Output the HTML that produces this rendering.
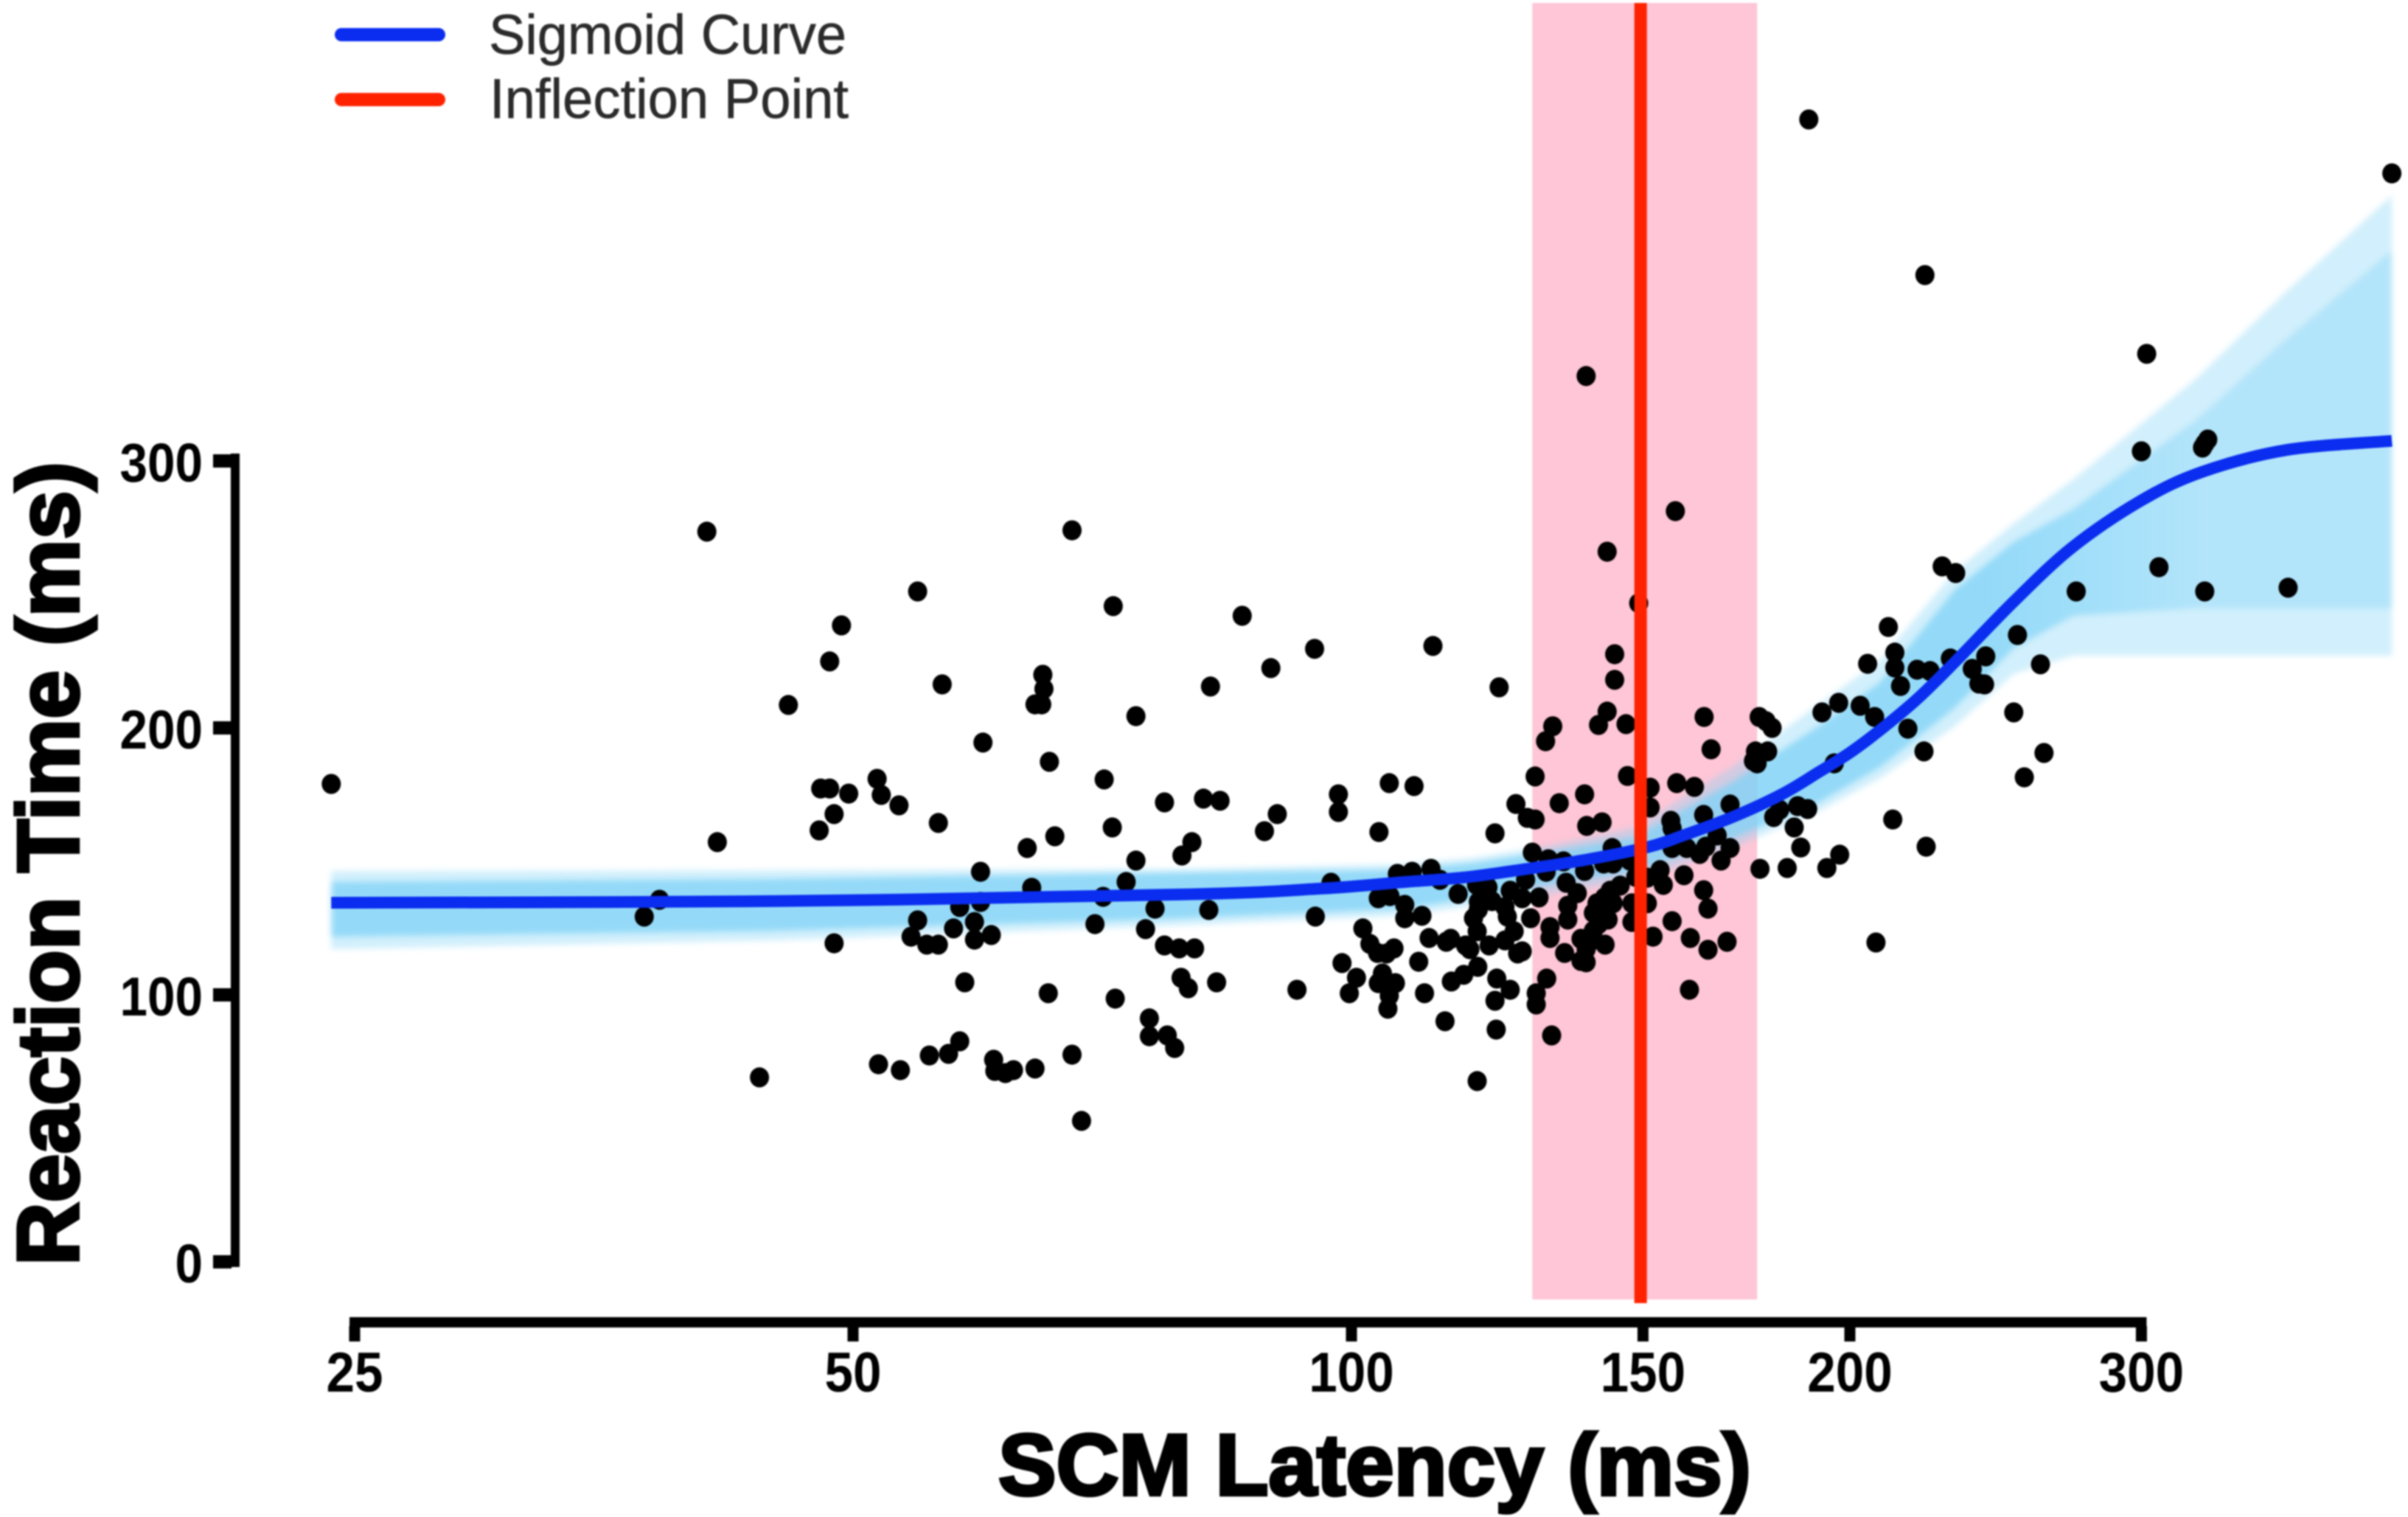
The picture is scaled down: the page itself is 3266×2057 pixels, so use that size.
<!DOCTYPE html>
<html lang="en">
<head>
<meta charset="utf-8">
<title>SCM Latency vs Reaction Time</title>
<style>
html,body{margin:0;padding:0;background:#fff;width:3266px;height:2057px;overflow:hidden}
svg{display:block;filter:blur(1.1px)}
text{font-family:"Liberation Sans",Arial,sans-serif}
</style>
</head>
<body>
<svg id="chart" xmlns="http://www.w3.org/2000/svg" width="3266" height="2057" viewBox="0 0 3266 2057">
  <defs>
    <filter id="soft" x="-5%" y="-5%" width="110%" height="110%"><feGaussianBlur stdDeviation="4"/></filter>
    <linearGradient id="inner-fade" gradientUnits="userSpaceOnUse" x1="2700" y1="0" x2="3000" y2="0">
      <stop offset="0" stop-color="#7fd3f7" stop-opacity="0.74"/>
      <stop offset="1" stop-color="#7fd3f7" stop-opacity="0.36"/>
    </linearGradient>
  </defs>
  <rect width="3266" height="2057" fill="#ffffff"/>
  <g id="ci-layer"></g>
  <g id="band-layer" filter="url(#soft)"></g>
  <g id="point-layer"></g>
  <g id="curve-layer"></g>
  <g id="axis-layer"></g>

  <text x="1354" y="2027" font-size="118" font-weight="700" fill="#000" stroke="#000" stroke-width="4.5" textLength="1021" lengthAdjust="spacingAndGlyphs">SCM Latency (ms)</text>
  <text transform="translate(106,1716) rotate(-90)" font-size="118" font-weight="700" fill="#000" stroke="#000" stroke-width="4.5" textLength="1090" lengthAdjust="spacingAndGlyphs">Reaction Time (ms)</text>

  <g>
    <g>
      <line x1="463" y1="47" x2="595" y2="47" stroke="#0a2df0" stroke-width="18" stroke-linecap="round"/>
      <text x="663" y="73" font-size="76" fill="#2b2b2b" stroke="#2b2b2b" stroke-width="0.6" textLength="485" lengthAdjust="spacingAndGlyphs">Sigmoid Curve</text>
    </g>
    <g>
      <line x1="463" y1="135" x2="595" y2="135" stroke="#ff2200" stroke-width="18" stroke-linecap="round"/>
      <text x="664" y="160" font-size="76" fill="#2b2b2b" stroke="#2b2b2b" stroke-width="0.6" textLength="487" lengthAdjust="spacingAndGlyphs">Inflection Point</text>
    </g>
  </g>
</svg>
<script>
// ---- Data (latency in ms, reaction time in ms) ----
const xTickValues = [25, 50, 100, 150, 200, 300];
const yTickValues = [0, 100, 200, 300];

const inflectionLatency = 149.5;
const inflectionCILow = 128.6;
const inflectionCIHigh = 175.8;

const curveLatency = [24.2,44.8,78.8,95.8,107.8,116.6,126.1,139.1,151.3,158.6,169.9,181.9,191.5,200.2,208.6,219.6,231.4,251.1,272.6,299.8,326.5,367,425];
const curveReaction = [134.5,135.1,137.6,139.8,142.3,143.9,146.7,150.8,155.5,159.7,166.6,175.1,183.4,190.9,199.2,210.8,224.6,247.2,267.7,285.1,295.9,304.1,307.5];

const bandLatency = [24.2,44.8,78.8,107.1,118.7,131.5,148.2,169.9,191.5,208.6,231.4,251.1,272.9,323.5,367,425];
const bandOuterUpper = [146.4,146.7,147.2,148.9,151.4,155.8,162.7,185.4,208.8,225.4,258.6,276.5,293.1,330.7,363.5,399.4];
const bandInnerUpper = [142.3,143.4,145.6,146.7,149.4,153.6,159.1,179.8,200.6,217.1,251.7,269.6,282.0,315.2,345.6,378.7];
const bandInnerLower = [121.8,124.0,128.7,132.3,136.2,141.2,146.1,158.6,172.1,185.4,207.5,229.8,242.0,244.8,244.8,244.8];
const bandOuterLower = [117.1,120.4,126.0,129.6,133.4,137.8,142.5,155.0,168.8,181.2,200.6,220.2,227.1,227.1,227.1,227.1];

const scatterLatency = [
24.2,37.4,38.2,40.8,41.4,43.9,45.7,
47.7,47.8,48.4,48.4,48.7,48.7,49.2,49.7,51.7,51.8,52.0,
53.3,53.4,54.2,54.7,54.7,55.4,55.6,56.3,56.3,56.6,57.1,57.5,
58.0,58.0,58.4,59.2,59.2,59.7,59.7,59.9,60.6,60.8,60.9,61.8,62.5,63.7,64.1,
64.4,64.4,65.0,65.1,65.2,65.6,65.7,66.2,67.8,67.8,68.7,70.0,70.8,70.9,
71.7,71.8,72.0,73.1,74.1,74.1,75.1,75.5,75.5,76.1,77.1,77.1,77.4,78.2,78.7,
78.9,79.0,79.7,80.1,80.4,81.4,82.0,82.2,82.9,83.3,85.9,
88.6,89.4,90.2,92.7,95.0,95.1,
97.2,98.2,98.2,98.7,99.7,100.7,101.6,102.6,103.8,103.7,103.9,104.4,103.8,105.0,105.2,105.3,105.4,105.4,105.5,106.1,106.3,106.6,
107.7,107.7,108.8,109.1,109.8,110.3,110.7,111.4,111.7,112.0,113.1,113.9,114.1,114.8,114.9,116.0,116.9,117.2,117.9,118.5,
119.0,119.1,119.1,119.2,119.3,119.3,120.9,121.1,121.6,122.1,122.3,122.4,122.8,122.1,123.8,123.8,124.2,124.7,124.7,125.4,125.7,126.0,126.8,126.8,127.4,127.7,128.3,128.6,129.1,129.1,129.3,129.3,129.8,131.1,131.0,131.2,
131.5,131.8,131.8,132.1,132.3,133.5,134.3,134.5,134.8,135.1,135.1,136.9,137.6,137.6,138.3,138.3,138.6,138.7,138.6,140.0,140.0,141.0,141.0,141.7,142.0,142.2,142.3,142.4,142.7,142.7,142.9,143.7,143.9,144.2,144.2,143.3,145.3,
140.7,143.9,139.7,141.4,138.6,
146.5,146.8,147.3,147.7,147.7,148.5,149.1,150.9,150.9,151.5,151.5,152.1,153.6,154.3,155.9,156.2,156.2,156.2,156.9,157.2,158.8,159.4,160.0,160.2,161.1,
162.3,163.2,163.2,163.3,163.7,164.2,164.2,164.9,166.3,167.2,168.6,169.3,169.3,174.9,175.4,175.8,176.3,176.5,178.0,178.4,
179.5,179.9,181.4,183.3,185.1,186.0,186.8,188.6,188.9,192.4,193.7,195.7,196.9,197.2,
202.9,205.0,207.0,207.4,211.0,212.3,212.9,212.9,214.6,216.8,219.6,
221.7,222.0,222.4,223.6,227.4,230.0,231.7,237.1,239.3,241.2,241.6,251.2,252.5,254.9,260.7,262.0,274.0,300.0,302.2,307.4,326.6,327.6,329.0,327.6,367.9,425.0
];
const scatterReaction = [
179.0,129.3,135.6,273.5,157.2,69.1,208.6,
161.6,177.3,177.3,224.9,167.7,119.3,238.4,175.4,180.9,74.0,174.9,
171.0,71.8,121.8,127.9,251.1,118.8,77.3,164.4,118.8,216.3,77.9,124.9,
132.9,82.6,104.7,127.3,120.7,146.1,134.8,194.5,122.4,75.7,71.5,70.7,71.8,155.0,140.1,
72.4,208.8,208.8,219.9,214.6,100.6,187.3,159.4,274.0,77.6,52.8,126.5,136.7,180.7,
162.7,245.6,98.6,142.3,204.4,150.3,124.6,91.2,84.5,132.3,172.1,118.5,84.8,80.1,117.4,
106.4,152.2,102.5,157.2,117.4,173.5,131.8,215.5,104.7,172.7,242.0,
161.3,222.4,167.7,101.9,229.6,129.3,
142.0,175.1,168.5,111.9,100.6,106.4,124.9,119.1,136.2,115.7,161.0,108.0,104.4,115.5,94.8,103.3,179.3,99.7,137.0,117.4,104.4,145.3,
133.7,128.7,146.1,178.2,112.4,129.6,100.6,121.3,147.2,230.7,143.1,90.1,119.9,121.0,105.0,137.8,107.5,118.5,117.1,128.7,
141.2,123.8,67.7,110.5,134.8,132.0,140.3,118.5,135.1,160.5,87.0,106.1,215.2,97.8,132.9,120.4,129.3,101.9,139.0,123.8,171.5,115.5,136.2,116.3,143.1,166.3,128.7,153.3,181.8,165.7,100.6,96.4,136.5,146.1,195.0,106.1,
150.8,125.4,121.3,84.8,200.6,171.8,150.0,115.7,142.0,133.4,128.2,138.1,121.0,112.7,175.1,146.4,331.8,163.3,117.1,130.7,124.0,201.1,126.5,164.6,149.2,136.5,118.8,130.1,266.0,206.1,128.2,155.0,149.2,227.6,218.0,139.0,140.9,
134.3,134.3,120.4,131.5,112.2,
201.4,182.0,150.3,134.3,127.3,144.2,246.7,134.3,143.9,177.6,170.2,121.8,146.7,141.2,165.2,162.4,155.0,127.6,281.2,179.3,144.8,155.0,101.9,121.3,177.9,
152.8,167.4,139.2,204.1,155.5,132.3,116.9,192.0,159.7,150.3,119.9,171.3,155.0,187.6,191.2,186.7,204.1,147.2,202.5,191.2,
200.0,166.6,169.3,147.5,162.7,170.7,155.2,169.6,427.9,205.8,147.5,186.7,209.4,152.5,
208.3,224.0,204.1,119.6,237.8,165.7,228.2,222.6,215.7,199.7,221.8,
191.2,369.6,155.5,221.3,260.5,226.0,258.0,222.1,216.6,216.3,226.8,205.8,234.8,181.5,223.8,190.6,251.1,303.6,340.1,260.2,305.0,306.4,308.0,251.1,252.5,407.7
];

// ---- Axis functions ----
const SVG_NS = 'http://www.w3.org/2000/svg';
function xScale(v){ return 481 + 676 * Math.log2(v / 25); }
function yScale(v){ return 1711 - 3.62 * v; }

function make(tag, attrs, parent){
  const el = document.createElementNS(SVG_NS, tag);
  for (const k in attrs) el.setAttribute(k, attrs[k]);
  parent.appendChild(el);
  return el;
}
// Smooth path through the curve knots (Catmull-Rom to cubic Bezier)
function smoothPath(xs, ys){
  const p = xs.map((x, i) => [xScale(x), yScale(ys[i])]);
  let d = 'M' + p[0][0].toFixed(1) + ' ' + p[0][1].toFixed(1);
  for (let i = 0; i < p.length - 1; i++){
    const a = p[Math.max(i - 1, 0)], b = p[i], c = p[i + 1], e = p[Math.min(i + 2, p.length - 1)];
    const c1x = b[0] + (c[0] - a[0]) / 6, c1y = b[1] + (c[1] - a[1]) / 6;
    const c2x = c[0] - (e[0] - b[0]) / 6, c2y = c[1] - (e[1] - b[1]) / 6;
    d += ' C' + c1x.toFixed(1) + ' ' + c1y.toFixed(1) + ' ' + c2x.toFixed(1) + ' ' + c2y.toFixed(1) + ' ' + c[0].toFixed(1) + ' ' + c[1].toFixed(1);
  }
  return d;
}
function bandPath(xs, upper, lower){
  const up = xs.map((x, i) => xScale(x).toFixed(1) + ' ' + yScale(upper[i]).toFixed(1));
  const low = xs.map((x, i) => xScale(x).toFixed(1) + ' ' + yScale(lower[i]).toFixed(1)).reverse();
  return 'M' + up.concat(low).join(' L') + ' Z';
}

// ---- Inflection confidence region ----
const ciLayer = document.getElementById('ci-layer');
const ciRect = make('rect', {
  x: xScale(inflectionCILow), y: 4,
  width: xScale(inflectionCIHigh) - xScale(inflectionCILow), height: 1758,
  fill: '#fec6d6'
}, ciLayer);



// ---- Bootstrap band ----
const bandLayer = document.getElementById('band-layer');
const outerBand = make('path', { d: bandPath(bandLatency, bandOuterUpper, bandOuterLower), fill: '#7fd3f7', 'fill-opacity': 0.36 }, bandLayer);


const innerBand = make('path', { d: bandPath(bandLatency, bandInnerUpper, bandInnerLower), fill: 'url(#inner-fade)' }, bandLayer);



// ---- Scatter points ----
const pointLayer = document.getElementById('point-layer');
scatterLatency.forEach((lat, i) => {
  const dot = make('ellipse', { cx: xScale(lat).toFixed(1), cy: yScale(scatterReaction[i]).toFixed(1), rx: 13, ry: 13.6, fill: '#000' }, pointLayer);
  
  
});

// ---- Sigmoid curve and inflection line ----
const curveLayer = document.getElementById('curve-layer');
const curve = make('path', { d: smoothPath(curveLatency, curveReaction), fill: 'none', stroke: '#0a2df0', 'stroke-width': 16, 'stroke-linejoin': 'round' }, curveLayer);


const inflection = make('line', { x1: xScale(inflectionLatency), x2: xScale(inflectionLatency), y1: 4, y2: 1767, stroke: '#ff2200', 'stroke-width': 17 }, curveLayer);



// ---- Axes ----
const axisLayer = document.getElementById('axis-layer');
const yAxisLine = make('rect', { x: 313, y: yScale(yTickValues[yTickValues.length - 1]) - 10, width: 12, height: yScale(yTickValues[0]) - yScale(yTickValues[yTickValues.length - 1]) + 17, fill: '#000' }, axisLayer);


yTickValues.forEach(v => {
  const tick = make('rect', { x: 289, y: yScale(v) - 9, width: 25, height: 18, fill: '#000' }, axisLayer);
  
  
  const label = make('text', { x: 275, y: yScale(v) + 28, 'text-anchor': 'end', 'font-size': 74, 'font-weight': 700, fill: '#000', textLength: String(v).length * 37.5, lengthAdjust: 'spacingAndGlyphs' }, axisLayer);
  label.textContent = String(v);
  
  
});
const xAxisLine = make('rect', { x: xScale(xTickValues[0]) - 7, y: 1786, width: xScale(xTickValues[xTickValues.length - 1]) - xScale(xTickValues[0]) + 14, height: 14, fill: '#000' }, axisLayer);


xTickValues.forEach(v => {
  const tick = make('rect', { x: xScale(v) - 7.5, y: 1798, width: 15, height: 21, fill: '#000' }, axisLayer);
  
  
  const label = make('text', { x: xScale(v), y: 1887, 'text-anchor': 'middle', 'font-size': 76, 'font-weight': 700, fill: '#000', textLength: String(v).length * 38.5, lengthAdjust: 'spacingAndGlyphs' }, axisLayer);
  label.textContent = String(v);
  
  
});
</script>
</body>
</html>
